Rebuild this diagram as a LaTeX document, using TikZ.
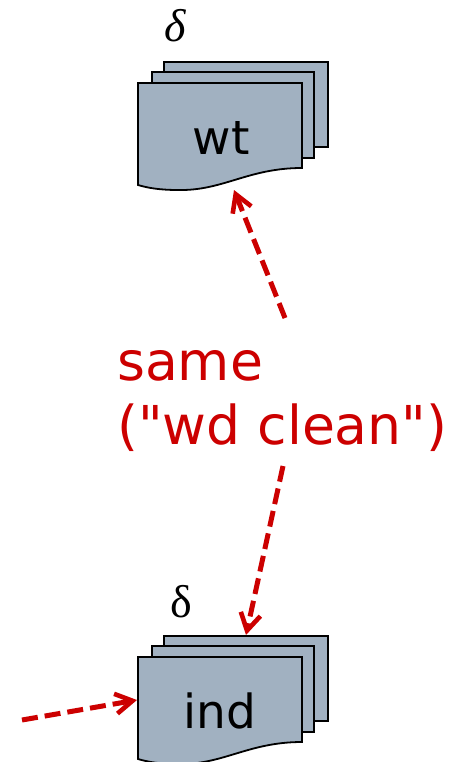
\documentclass[tikz,border=0pt]{standalone}
\usepackage{fontspec}
\usetikzlibrary{arrows.meta}
\newfontfamily\labelfont{DejaVu Sans}
\newfontfamily\deltafont{Liberation Serif}
\definecolor{docfill}{HTML}{A1B1C1}
\definecolor{samered}{HTML}{CC0000}
\tikzset{
  x=1pt,y=-1pt,
  docsheet/.style={draw=black,fill=docfill,line width=1.8pt,line join=miter},
  samearrow/.style={draw=samered,line width=5pt,dash pattern=on 16pt off 7pt,-{Straight Barb[length=17pt,width=20pt,line width=4.6pt]}},
  doclabel/.style={font=\labelfont\fontsize{47}{52}\selectfont,text=black,anchor=center,inner sep=0pt},
  deltalabel/.style={font=\deltafont\fontsize{46}{52}\selectfont,text=black,anchor=center,inner sep=0pt},
}
\newcommand{\docstack}{%
  \path[docsheet] (26,-21) rectangle (190,64);
  \path[docsheet] (14,-11) rectangle (176,75);
  \path[docsheet] (0,0) -- (164,0) -- (164,85) .. controls (110,85) and (85,108) .. (40,107) .. controls (22,107) and (10,105) .. (0,102) -- cycle;
}
\begin{document}
\begin{tikzpicture}
\useasboundingbox (0,0) rectangle (462,762);
% top stack
\begin{scope}[shift={(138,83)}]
  \docstack
\end{scope}
% bottom stack
\begin{scope}[shift={(138,657)}]
  \docstack
\end{scope}
\node[doclabel] (wt) at (221,138) {wt};
\node[doclabel] (ind) at (220,711) {ind};
\node[deltalabel] (d1) at (175,26) {\itshape δ};
\node[deltalabel] (d2) at (181,602) {δ};
\node[font=\labelfont\fontsize{53.6}{64}\selectfont,text=samered,anchor=north west,align=left,inner sep=0pt] (same) at (117,350) {same\\("wd clean")};
\coordinate (wttip) at (234,190);
\coordinate (indtip) at (246,635);
\coordinate (sametop) at (285,318);
\coordinate (samebot) at (283,466);
\coordinate (left) at (22,720);
\coordinate (indleft) at (137,700);
\draw[samearrow] (sametop) -- (wttip);
\draw[samearrow] (samebot) -- (indtip);
\draw[samearrow] (left) -- (indleft);
\end{tikzpicture}
\end{document}
